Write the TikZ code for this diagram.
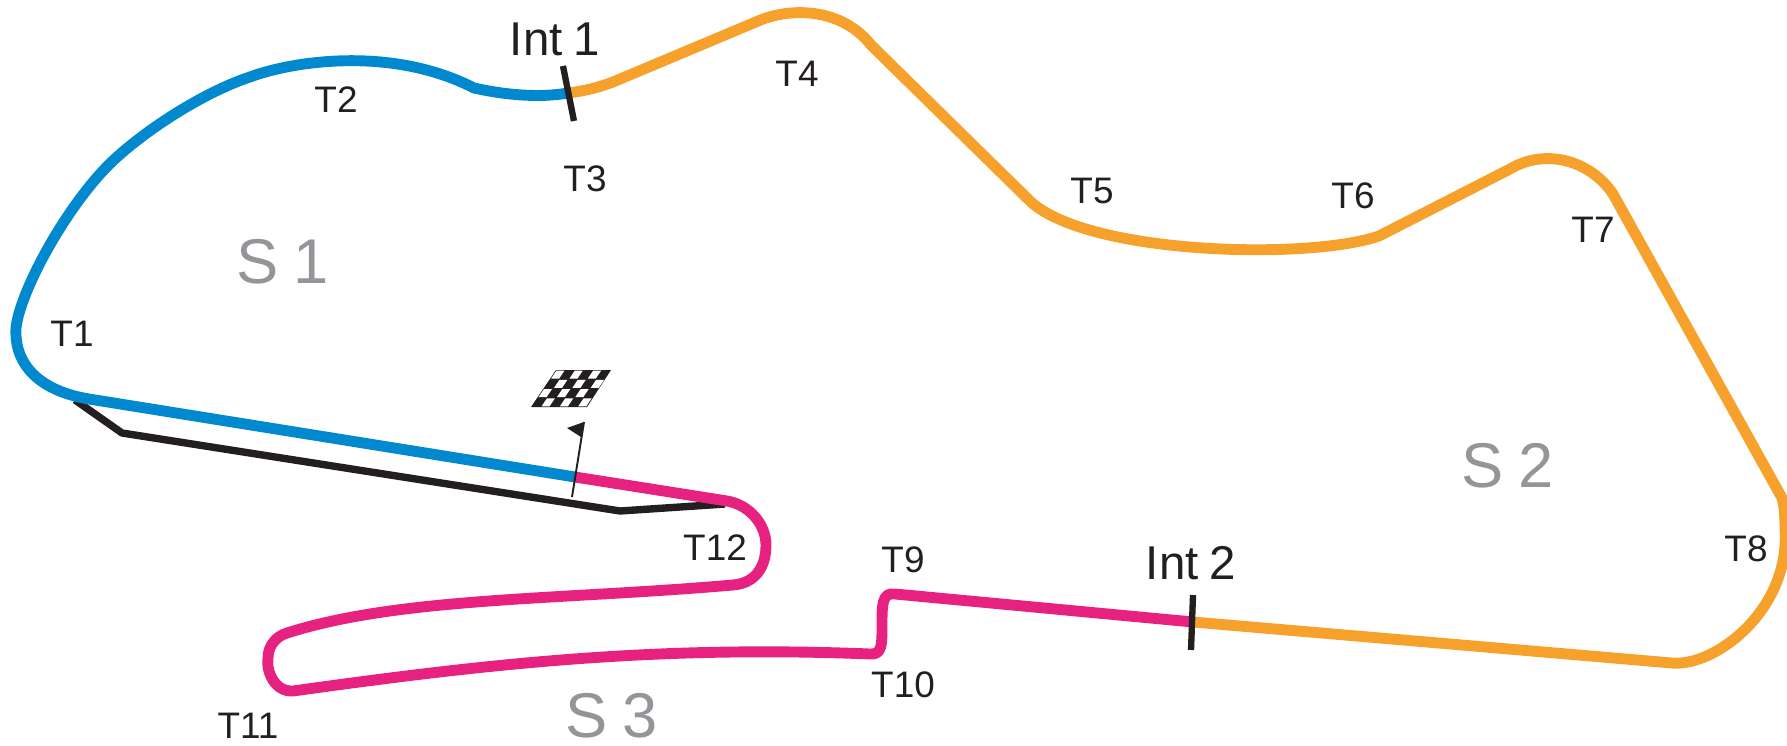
\documentclass[tikz,border=0pt]{standalone}
\usepackage{fontspec}
\setmainfont[WordSpace=0.85]{Liberation Sans}
\usepackage{tikz}
\definecolor{trBlue}  {RGB}{0,137,207}
\definecolor{trOrange}{RGB}{247,161,45}
\definecolor{trPink}  {RGB}{231,33,127}
\definecolor{trBlack} {RGB}{35,31,32}
\definecolor{trGray}  {RGB}{147,149,152}
\begin{document}
\begin{tikzpicture}
[x=0.02cm, y=-0.02cm, line join=round,
  track/.style = { line width = 6.2pt },
  pit/.style = { line width = 4.2pt, color = trBlack },
  tick/.style = { line width = 3.6pt, color = trBlack },
  turn/.style = { inner sep = 0pt, color = trBlack, font = \fontsize{21}{21}\selectfont },
  inter/.style = { inner sep = 0pt, color = trBlack, font = \fontsize{27}{27}\selectfont },
  sector/.style = { inner sep = 0pt, color = trGray, font = \fontsize{36}{36}\selectfont }
]
\useasboundingbox (0,0) rectangle (1787,746);

% Pit lane:
\draw[pit] (75,400) -- (122,433) -- (620,511) -- (725,504);

% Sector 1:
\draw[track, trBlue] (575,477) -- (89,399)
  .. controls (40,391) and (14,365) .. (16,328)
  .. controls (20,290) and (70,199) .. (117,157)
  .. controls (155,123) and (210,90) .. (250,77)
  .. controls (290,62) and (390,45) .. (474,88)
  .. controls (505,95) and (540,98) .. (568,93);

% Sector 2:
\draw[track, trOrange] (568,93)
  .. controls (585,91) and (600,87) .. (613,82) -- (763,19)
  .. controls (800,6) and (845,12) .. (871,45) -- (1031,202)
  .. controls (1090,255) and (1310,260) .. (1379,236) -- (1510,169)
  .. controls (1545,148) and (1590,160) .. (1613,194) -- (1782,498)
  .. controls (1784,505) and (1785,515) .. (1785,530)
  .. controls (1790,610) and (1715,667) .. (1672,663) -- (1193,622);

% Sector 3:
\draw[track, trPink] (1193,622) -- (895,594)
  .. controls (882,592) and (882,605) .. (882,625)
  .. controls (882,645) and (882,655) .. (870,654)
  .. controls (650,645) and (480,665) .. (293,691)
  .. controls (275,692) and (266,672) .. (268,658)
  .. controls (268,645) and (277,636) .. (287,633)
  .. controls (400,597) and (560,600) .. (733,585)
  .. controls (757,583) and (766,565) .. (766,545)
  .. controls (766,525) and (750,505) .. (727,501) -- (575,477);

% Intermediate marks:
\draw[tick] (563,66) -- (574,121);
\draw[tick] (1193,595) -- (1191,650);

% Flag:
\draw[line width = 1.1pt, trBlack] (584,422) -- (572,497);
\fill[trBlack] (584,422) -- (567,428) -- (581,437) -- cycle;

% Chequered board:
\fill[trBlack] (556,370) -- (611,370) -- (587,407) -- (531,407) -- cycle;
\foreach \row/\col in {0/0,0/2,0/4,1/1,1/3,1/5,2/0,2/2,2/4,3/1,3/3,3/5}
  \fill[white] ({556+9.17*\col-6.25*\row+0.5}, {370+9.25*\row+0.6})
    -- ++(8,0) -- ++(-5.4,8) -- ++(-8,0) -- cycle;

% Turns:
\node[turn] (t1)  at (72,334)   {T1};
\node[turn] (t2)  at (336,100)  {T2};
\node[turn] (t3)  at (585,179)  {T3};
\node[turn] (t4)  at (797,74)   {T4};
\node[turn] (t5)  at (1092,191) {T5};
\node[turn] (t6)  at (1353,196) {T6};
\node[turn] (t7)  at (1593,230) {T7};
\node[turn] (t8)  at (1746,549) {T8};
\node[turn] (t9)  at (903,560)  {T9};
\node[turn] (t10) at (903,685)  {T10};
\node[turn] (t11) at (248,726)  {T11};
\node[turn] (t12) at (715,548)  {T12};

% Intermediates and sectors:
\node[inter] (int1) at (555,39)  {Int 1};
\node[inter] (int2) at (1191,563) {Int 2};
\node[sector] (s1) at (283,262) {S 1};
\node[sector] (s2) at (1508,466) {S 2};
\node[sector] (s3) at (612,716) {S 3};
\end{tikzpicture}
\end{document}
